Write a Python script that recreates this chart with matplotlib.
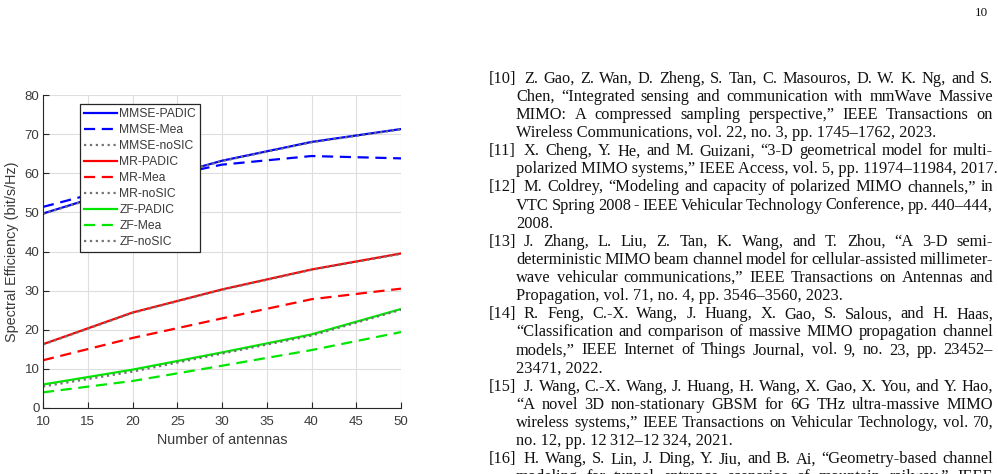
import matplotlib
matplotlib.use("Agg")
import matplotlib.pyplot as plt
from matplotlib.font_manager import FontProperties
from matplotlib.transforms import IdentityTransform

# ---------------- data ----------------
antennas = [10, 20, 30, 40, 50]
mmse_padic = [49.7, 56.8, 63.2, 68.0, 71.3]
mmse_mea = [51.4, 57.4, 62.2, 64.4, 63.8]
mmse_nosic = [49.6, 56.7, 63.1, 67.9, 71.2]
mr_padic = [16.3, 24.4, 30.3, 35.4, 39.5]
mr_mea = [12.2, 17.9, 22.9, 27.8, 30.5]
mr_nosic = [16.2, 24.3, 30.2, 35.3, 39.4]
zf_padic = [6.0, 9.8, 14.2, 18.8, 25.3]
zf_mea = [4.0, 6.9, 10.8, 14.8, 19.4]
zf_nosic = [5.5, 9.3, 13.9, 18.5, 25.1]

series_labels = ["MMSE-PADIC", "MMSE-Mea", "MMSE-noSIC",
                 "MR-PADIC", "MR-Mea", "MR-noSIC",
                 "ZF-PADIC", "ZF-Mea", "ZF-noSIC"]
xticks = [10, 15, 20, 25, 30, 35, 40, 45, 50]
yticks = [0, 10, 20, 30, 40, 50, 60, 70, 80]

# (label, lines, last line justified?)
references = [
    ("[10]", ["Z. Gao, Z. Wan, D. Zheng, S. Tan, C. Masouros, D. W. K. Ng, and S.",
              "Chen, \u201cIntegrated sensing and communication with mmWave Massive",
              "MIMO: A compressed sampling perspective,\u201d IEEE Transactions on",
              "Wireless Communications, vol. 22, no. 3, pp. 1745\u20131762, 2023."], False),
    ("[11]", ["X. Cheng, Y. He, and M. Guizani, \u201c3-D geometrical model for multi-",
              "polarized MIMO systems,\u201d IEEE Access, vol. 5, pp. 11974\u201311984, 2017."], False),
    ("[12]", ["M. Coldrey, \u201cModeling and capacity of polarized MIMO channels,\u201d in",
              "VTC Spring 2008 - IEEE Vehicular Technology Conference, pp. 440\u2013444,",
              "2008."], False),
    ("[13]", ["J. Zhang, L. Liu, Z. Tan, K. Wang, and T. Zhou, \u201cA 3-D semi-",
              "deterministic MIMO beam channel model for cellular-assisted millimeter-",
              "wave vehicular communications,\u201d IEEE Transactions on Antennas and",
              "Propagation, vol. 71, no. 4, pp. 3546\u20133560, 2023."], False),
    ("[14]", ["R. Feng, C.-X. Wang, J. Huang, X. Gao, S. Salous, and H. Haas,",
              "\u201cClassification and comparison of massive MIMO propagation channel",
              "models,\u201d IEEE Internet of Things Journal, vol. 9, no. 23, pp. 23452\u2013",
              "23471, 2022."], False),
    ("[15]", ["J. Wang, C.-X. Wang, J. Huang, H. Wang, X. Gao, X. You, and Y. Hao,",
              "\u201cA novel 3D non-stationary GBSM for 6G THz ultra-massive MIMO",
              "wireless systems,\u201d IEEE Transactions on Vehicular Technology, vol. 70,",
              "no. 12, pp. 12\u2009312\u201312\u2009324, 2021."], False),
    ("[16]", ["H. Wang, S. Lin, J. Ding, Y. Jiu, and B. Ai, \u201cGeometry-based channel",
              "modeling for tunnel entrance scenarios of mountain railway,\u201d IEEE"], True),
]
page_number = "10"

# ---------------- figure ----------------
W, H = 998, 474
fig = plt.figure(figsize=(W / 100, H / 100), dpi=100)
plt.rcParams['font.family'] = ['Liberation Sans', 'DejaVu Sans']

ax = fig.add_axes([43 / W, 66 / H, 358 / W, 313 / H])
dark = "#262626"
txtc = "#3a3a3a"
blue, red, green, gray = (0, 0, 1), (1, 0, 0), (0, 0.9, 0), (0.45, 0.45, 0.45)
dash = (0, (5, 3))
lw = 1.6

ax.plot(antennas, mmse_padic, color=blue, lw=lw, label=series_labels[0])
ax.plot(antennas, mmse_mea, color=blue, lw=lw, ls=dash, label=series_labels[1])
ax.plot(antennas, mmse_nosic, color=gray, lw=lw, ls=':', label=series_labels[2])
ax.plot(antennas, mr_padic, color=red, lw=lw, label=series_labels[3])
ax.plot(antennas, mr_mea, color=red, lw=lw, ls=dash, label=series_labels[4])
ax.plot(antennas, mr_nosic, color=gray, lw=lw, ls=':', label=series_labels[5])
ax.plot(antennas, zf_padic, color=green, lw=lw, label=series_labels[6])
ax.plot(antennas, zf_mea, color=green, lw=lw, ls=dash, label=series_labels[7])
ax.plot(antennas, zf_nosic, color=gray, lw=lw, ls=':', label=series_labels[8])

ax.set_xlim(10, 50)
ax.set_ylim(0, 80)
ax.set_xticks(xticks)
ax.set_yticks(yticks)
ax.grid(True, color="#dedede", lw=0.8)
ax.set_axisbelow(True)
for s in ("top", "right"):
    ax.spines[s].set_visible(False)
for s in ("left", "bottom"):
    ax.spines[s].set_color(dark)
    ax.spines[s].set_linewidth(0.8)
ax.tick_params(direction="in", length=4, width=0.8, colors=dark,
               labelsize=9.5, labelcolor=txtc)
ax.tick_params(axis="x", pad=5.5)
ax.tick_params(axis="y", pad=2.5)
ax.set_xlabel("Number of antennas", fontsize=10.4, color=txtc, labelpad=4)
ax.set_ylabel("Spectral Efficiency (bit/s/Hz)", fontsize=10.4, color=txtc, labelpad=4)

leg = ax.legend(loc="upper left", bbox_to_anchor=((80 - 43) / 358, (408 - 104) / 313),
                borderaxespad=0, fontsize=8.7, frameon=True, fancybox=False,
                handlelength=2.75, handletextpad=0.15, labelspacing=0.33,
                borderpad=0.35, labelcolor=txtc)
leg.get_frame().set_edgecolor(dark)
leg.get_frame().set_linewidth(0.9)
leg.get_frame().set_alpha(1)

# ---------------- reference text column ----------------
renderer = fig.canvas.get_renderer()
serif = ['Liberation Serif', 'DejaVu Serif']


def width(s, fs):
    fp = FontProperties(family=serif, size=fs)
    w, h, d = renderer.get_text_width_height_descent(s, fp, ismath=False)
    return w


# font size fitted so that the natural width of a reference line matches
target_line = references[0][1][3]
fs = 10 * 419 / width(target_line, 10)

x_label = 489
x_first = 524
x_cont = 516
x_right = 993
baseline0 = 82.7
lead = 18.12
ink = "#111111"


def draw_line(text, x0, ybase, justify):
    words = text.split(" ")
    if not justify or len(words) < 2:
        fig.text(x0, H - ybase, text, transform=IdentityTransform(), fontsize=fs,
                 family=serif, va="baseline", ha="left", color=ink)
        return
    ws = [width(w, fs) for w in words]
    gap = (x_right - x0 - sum(ws)) / (len(words) - 1)
    x = x0
    for w, wd in zip(words, ws):
        fig.text(x, H - ybase, w, transform=IdentityTransform(), fontsize=fs,
                 family=serif, va="baseline", ha="left", color=ink)
        x += wd + gap


row = 0
for label, lines, last_just in references:
    for i, line in enumerate(lines):
        y = baseline0 + row * lead
        if i == 0:
            fig.text(x_label, H - y, label, transform=IdentityTransform(), fontsize=fs,
                     family=serif, va="baseline", ha="left", color=ink)
        x0 = x_first if i == 0 else x_cont
        justify = (i < len(lines) - 1) or last_just
        draw_line(line, x0, y, justify)
        row += 1

fig.text(988, H - 16, page_number, transform=IdentityTransform(), fontsize=fs * 0.8,
         family=serif, va="baseline", ha="right", color=ink)

fig.savefig("out.png", dpi=100)
